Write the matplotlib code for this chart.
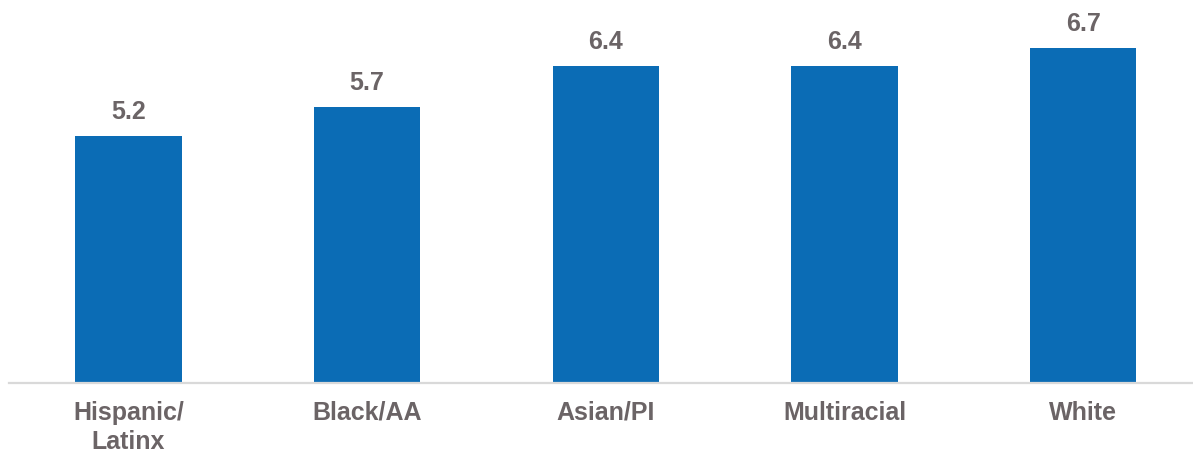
import matplotlib
matplotlib.use("Agg")
import matplotlib.pyplot as plt

categories = ["Hispanic/\nLatinx", "Black/AA", "Asian/PI", "Multiracial", "White"]
values = [5.2, 5.7, 6.4, 6.4, 6.7]
value_labels = ["5.2", "5.7", "6.4", "6.4", "6.7"]

W, H, DPI = 1193, 462, 100
fig = plt.figure(figsize=(W / DPI, H / DPI), dpi=DPI)
fig.patch.set_facecolor("white")

base_px = 382.5
ax = fig.add_axes([9 / W, (H - base_px) / H, (W - 9) / W, base_px / H])

bar_color = "#0B6CB5"
text_color = "#6B6466"
font = dict(family=["Liberation Sans", "DejaVu Sans"], weight="bold")

x = list(range(len(categories)))
bars = ax.bar(x, values, width=0.446, color=bar_color, bottom=0)

ymin = 1.0
ax.set_ylim(ymin, ymin + base_px / 58.67)
ax.set_xlim(-0.5, len(categories) - 0.5 + (W - 9 - 238.7 * 5) / 238.7)

for xi, v, lab in zip(x, values, value_labels):
    ax.annotate(lab, (xi, v), xytext=(0, 12.2), textcoords="offset points",
                ha="center", va="baseline", fontsize=18, color=text_color, **font)

ax.set_xticks(x)
ax.set_xticklabels(categories, fontsize=18, color=text_color, linespacing=1.3, **font)
ax.tick_params(axis="x", length=0, pad=13)
ax.set_yticks([])

for s in ["top", "right", "left"]:
    ax.spines[s].set_visible(False)
ax.spines["bottom"].set_color("#D9D9D9")
ax.spines["bottom"].set_linewidth(1.6)

fig.savefig("out.png", dpi=DPI, facecolor="white")
